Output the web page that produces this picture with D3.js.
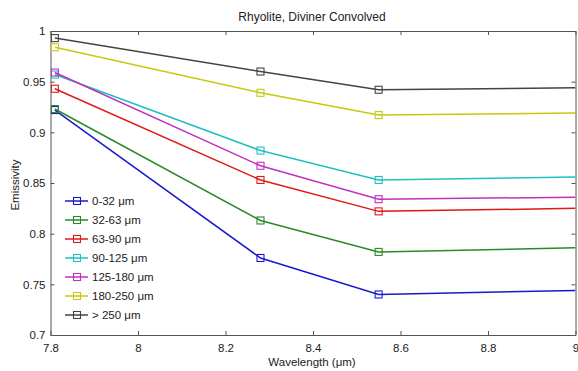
<!DOCTYPE html>
<html><head><meta charset="utf-8">
<script src="https://cdn.jsdelivr.net/npm/d3@7"></script>
<style>body{margin:0;background:#fff;} text{font-family:Arial,"Liberation Sans",Helvetica,sans-serif;}</style>
</head><body>
<svg id="c" width="578" height="371"></svg>
<script>
const wavelengths = [7.81, 8.28, 8.55, 9.0];
const seriesNames = ["0-32 \u03bcm","32-63 \u03bcm","63-90 \u03bcm","90-125 \u03bcm","125-180 \u03bcm","180-250 \u03bcm","> 250 \u03bcm"];
const s0_32    = [0.922, 0.776, 0.740, 0.744];
const s32_63   = [0.923, 0.813, 0.782, 0.786];
const s63_90   = [0.943, 0.853, 0.822, 0.825];
const s90_125  = [0.957, 0.882, 0.853, 0.856];
const s125_180 = [0.959, 0.867, 0.834, 0.836];
const s180_250 = [0.984, 0.939, 0.917, 0.919];
const s250     = [0.993, 0.960, 0.942, 0.944];
const colors = ["#1a1acc","#2a8a2a","#e01818","#20c0c0","#c030c0","#c8c810","#444444"];
const xTicks = [7.8, 8, 8.2, 8.4, 8.6, 8.8, 9];
const yTicks = [0.7, 0.75, 0.8, 0.85, 0.9, 0.95, 1];
const allSeries = [s0_32, s32_63, s63_90, s90_125, s125_180, s180_250, s250];

const svg = d3.select("#c");
const L = 50.5, R = 575.5, T = 31, B = 335;
const x = d3.scaleLinear().domain([7.8, 9]).range([L, R]);
const y = d3.scaleLinear().domain([0.7, 1]).range([B, T]);
const axisColor = "#555";

svg.append("defs").append("clipPath").attr("id","clip")
  .append("rect").attr("x",L).attr("y",T).attr("width",R-L).attr("height",B-T);

const fmt = d => String(d);
const gx = svg.append("g").attr("transform",`translate(0,${B})`)
  .call(d3.axisBottom(x).tickValues(xTicks).tickFormat(fmt).tickSizeInner(-4).tickSizeOuter(0).tickPadding(9));
const gxt = svg.append("g").attr("transform",`translate(0,${T})`)
  .call(d3.axisTop(x).tickValues(xTicks).tickFormat("").tickSizeInner(-4).tickSizeOuter(0));
const gy = svg.append("g").attr("transform",`translate(${L},0)`)
  .call(d3.axisLeft(y).tickValues(yTicks).tickFormat(fmt).tickSizeInner(-4).tickSizeOuter(0).tickPadding(5));
const gyr = svg.append("g").attr("transform",`translate(${R},0)`)
  .call(d3.axisRight(y).tickValues(yTicks).tickFormat("").tickSizeInner(-4).tickSizeOuter(0));
[gx,gxt,gy,gyr].forEach(g=>{
  g.select(".domain").attr("stroke",axisColor).attr("stroke-width",1);
  g.selectAll(".tick line").attr("stroke",axisColor);
  g.selectAll("text").attr("fill","#222").style("font-size","11.5px");
});

const line = d3.line().x((d,i)=>x(wavelengths[i])).y(d=>y(d));
const plot = svg.append("g").attr("clip-path","url(#clip)");
allSeries.forEach((s,k)=>{
  plot.append("path").attr("d",line(s)).attr("fill","none")
    .attr("stroke",colors[k]).attr("stroke-width",1.5);
  plot.selectAll(null).data(s.map((v,i)=>({v,w:wavelengths[i]})).filter(d=>d.w<9))
    .enter().append("rect")
    .attr("x",d=>x(d.w)-3.5).attr("y",d=>y(d.v)-3.5)
    .attr("width",7).attr("height",7)
    .attr("fill","none").attr("stroke",colors[k]).attr("stroke-width",1.1);
});

const lg = svg.append("g");
seriesNames.forEach((n,k)=>{
  const yy = 201 + k*19;
  lg.append("line").attr("x1",65).attr("x2",88).attr("y1",yy).attr("y2",yy)
    .attr("stroke",colors[k]).attr("stroke-width",1.5);
  lg.append("rect").attr("x",73.5).attr("y",yy-3.5).attr("width",7).attr("height",7)
    .attr("fill","none").attr("stroke",colors[k]).attr("stroke-width",1.1);
  lg.append("text").attr("x",92).attr("y",yy+4).text(n)
    .style("font-size","11.5px").attr("fill","#222");
});

svg.append("text").attr("x",312).attr("y",21).attr("text-anchor","middle")
  .style("font-size","12px").attr("fill","#222").text("Rhyolite, Diviner Convolved");
svg.append("text").attr("x",312).attr("y",366).attr("text-anchor","middle")
  .style("font-size","11.5px").attr("fill","#222").text("Wavelength (\u03bcm)");
svg.append("text").attr("transform","translate(19,185) rotate(-90)").attr("text-anchor","middle")
  .style("font-size","11.5px").attr("fill","#222").text("Emissivity");
</script>
</body></html>
